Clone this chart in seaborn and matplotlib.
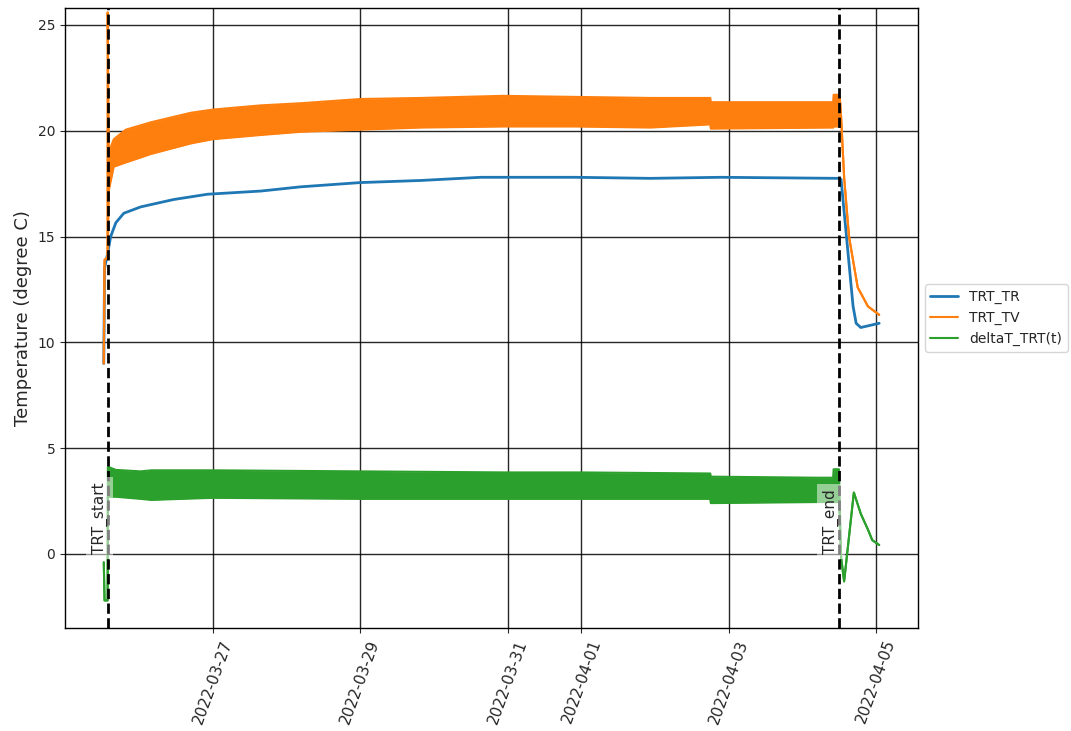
import pandas as pd
import matplotlib
matplotlib.use("Agg")
import matplotlib.pyplot as plt
import matplotlib.dates as mdates
import seaborn as sns

sns.set_style("ticks")
plt.rcParams["font.family"] = ["DejaVu Sans"]

# Return temperature (TRT_TR)
tr_time = [
    "2022-03-25 12:30", "2022-03-25 12:45", "2022-03-25 13:45", "2022-03-25 14:45",
    "2022-03-25 16:25", "2022-03-25 19:00", "2022-03-26 00:30", "2022-03-26 11:15",
    "2022-03-26 22:20", "2022-03-27 15:40", "2022-03-28 04:40", "2022-03-29 00:00",
    "2022-03-29 19:45", "2022-03-30 15:15", "2022-03-31 22:00", "2022-04-01 22:30",
    "2022-04-02 21:30", "2022-04-04 11:55", "2022-04-04 12:35", "2022-04-04 16:30",
    "2022-04-04 17:30", "2022-04-04 19:00", "2022-04-04 22:00", "2022-04-05 01:00",
]
tr_values = [
    9.0, 13.5, 14.2, 15.0,
    15.65, 16.1, 16.4, 16.75,
    17.0, 17.15, 17.35, 17.55,
    17.65, 17.8, 17.8, 17.75,
    17.8, 17.75, 17.7, 11.7,
    10.9, 10.7, 10.8, 10.9,
]

# Supply temperature (TRT_TV): lower / upper extent of the fluctuating signal
tv_time = [
    "2022-03-25 12:30", "2022-03-25 12:45", "2022-03-25 13:40", "2022-03-25 13:45",
    "2022-03-25 14:10", "2022-03-25 15:45", "2022-03-25 19:40", "2022-03-26 03:50",
    "2022-03-26 16:50", "2022-03-27 00:00", "2022-03-27 15:40", "2022-03-28 04:40",
    "2022-03-29 00:00", "2022-03-29 19:45", "2022-03-30 22:30", "2022-03-31 22:00",
    "2022-04-01 22:30", "2022-04-02 18:00", "2022-04-02 18:10", "2022-04-04 10:00",
    "2022-04-04 10:10", "2022-04-04 11:55", "2022-04-04 12:10", "2022-04-04 12:35",
    "2022-04-04 13:35", "2022-04-04 15:10", "2022-04-04 18:00", "2022-04-04 21:20",
    "2022-04-05 01:00",
]
tv_low = [
    9.0, 13.9, 14.0, 14.0,
    17.2, 18.3, 18.5, 18.9,
    19.4, 19.6, 19.8, 19.95,
    20.05, 20.15, 20.2, 20.2,
    20.15, 20.3, 20.1, 20.15,
    20.2, 20.2, 21.6, 20.7,
    17.8, 15.0, 12.6, 11.7,
    11.3,
]
tv_high = [
    9.0, 13.9, 14.0, 25.6,
    19.0, 19.6, 20.05, 20.4,
    20.85, 21.0, 21.2, 21.3,
    21.5, 21.55, 21.65, 21.6,
    21.55, 21.55, 21.35, 21.35,
    21.7, 21.7, 21.6, 20.7,
    17.8, 15.0, 12.6, 11.7,
    11.3,
]

# Temperature difference (deltaT_TRT(t)): lower / upper extent
dt_time = [
    "2022-03-25 12:30", "2022-03-25 12:45", "2022-03-25 13:45", "2022-03-25 13:50",
    "2022-03-25 14:10", "2022-03-25 16:25", "2022-03-26 00:30", "2022-03-26 04:00",
    "2022-03-27 00:00", "2022-03-29 00:00", "2022-03-31 00:00", "2022-04-01 00:00",
    "2022-04-02 18:00", "2022-04-02 18:10", "2022-04-04 05:00", "2022-04-04 10:00",
    "2022-04-04 10:10", "2022-04-04 11:55", "2022-04-04 12:35", "2022-04-04 13:35",
    "2022-04-04 16:45", "2022-04-04 19:00", "2022-04-04 21:20", "2022-04-04 22:45",
    "2022-04-05 01:00",
]
dt_low = [
    -0.4, -2.2, -2.2, 2.7,
    2.7, 2.7, 2.6, 2.55,
    2.65, 2.6, 2.6, 2.6,
    2.6, 2.4, 2.45, 2.45,
    2.45, 2.45, -0.15, -1.3,
    2.9, 1.9, 1.15, 0.65,
    0.42,
]
dt_high = [
    -0.4, -2.2, -2.2, 4.1,
    4.1, 3.97, 3.9, 3.95,
    3.95, 3.9, 3.85, 3.85,
    3.8, 3.65, 3.6, 3.6,
    4.0, 4.0, -0.15, -1.3,
    2.9, 1.9, 1.15, 0.65,
    0.42,
]

trt_start = "2022-03-25 13:45"
trt_end = "2022-04-04 11:55"
tick_dates = ["2022-03-27", "2022-03-29", "2022-03-31", "2022-04-01", "2022-04-03", "2022-04-05"]

c_tr, c_tv, c_dt = "#1f77b4", "#ff7f0e", "#2ca02c"

fig = plt.figure(figsize=(10.71, 7.31), dpi=100)
ax = fig.add_axes([0.0607, 0.141, 0.7964, 0.848])

t_tr = pd.to_datetime(tr_time)
t_tv = pd.to_datetime(tv_time)
t_dt = pd.to_datetime(dt_time)

sns.lineplot(x=t_tr, y=tr_values, color=c_tr, lw=2, label="TRT_TR",
             estimator=None, sort=False, ax=ax)

sns.lineplot(x=t_tv, y=tv_high, color=c_tv, lw=1.5, label="TRT_TV",
             estimator=None, sort=False, ax=ax)
sns.lineplot(x=t_tv, y=tv_low, color=c_tv, lw=1.5,
             estimator=None, sort=False, ax=ax)
ax.fill_between(t_tv, tv_low, tv_high, color=c_tv, lw=0)

sns.lineplot(x=t_dt, y=dt_high, color=c_dt, lw=1.5, label="deltaT_TRT(t)",
             estimator=None, sort=False, ax=ax)
sns.lineplot(x=t_dt, y=dt_low, color=c_dt, lw=1.5,
             estimator=None, sort=False, ax=ax)
ax.fill_between(t_dt, dt_low, dt_high, color=c_dt, lw=0)

for when, name in [(trt_start, "TRT_start"), (trt_end, "TRT_end")]:
    ts = pd.Timestamp(when)
    ax.axvline(ts, color="black", ls="--", lw=2, zorder=5)
    ax.text(ts, 0, name, rotation=90, ha="right", va="bottom", fontsize=11,
            zorder=6, bbox=dict(facecolor="white", alpha=0.5, edgecolor="none"))

ax.set_ylim(-3.5, 25.8)
ax.set_xticks(pd.to_datetime(tick_dates))
ax.xaxis.set_major_formatter(mdates.DateFormatter("%Y-%m-%d"))
plt.setp(ax.get_xticklabels(), rotation=70, fontsize=11)
ax.tick_params(axis="y", labelsize=10)
ax.grid(True, color="black", lw=1, alpha=0.85)
ax.set_axisbelow(True)
for sp in ax.spines.values():
    sp.set_color("black")
    sp.set_linewidth(1)
    sp.set_visible(True)

ax.set_xlabel("")
ax.set_ylabel("Temperature (degree C)", fontsize=13)
ax.legend(loc="center left", bbox_to_anchor=(1.0, 0.5), fontsize=10)

fig.savefig("out.png", dpi=100)
